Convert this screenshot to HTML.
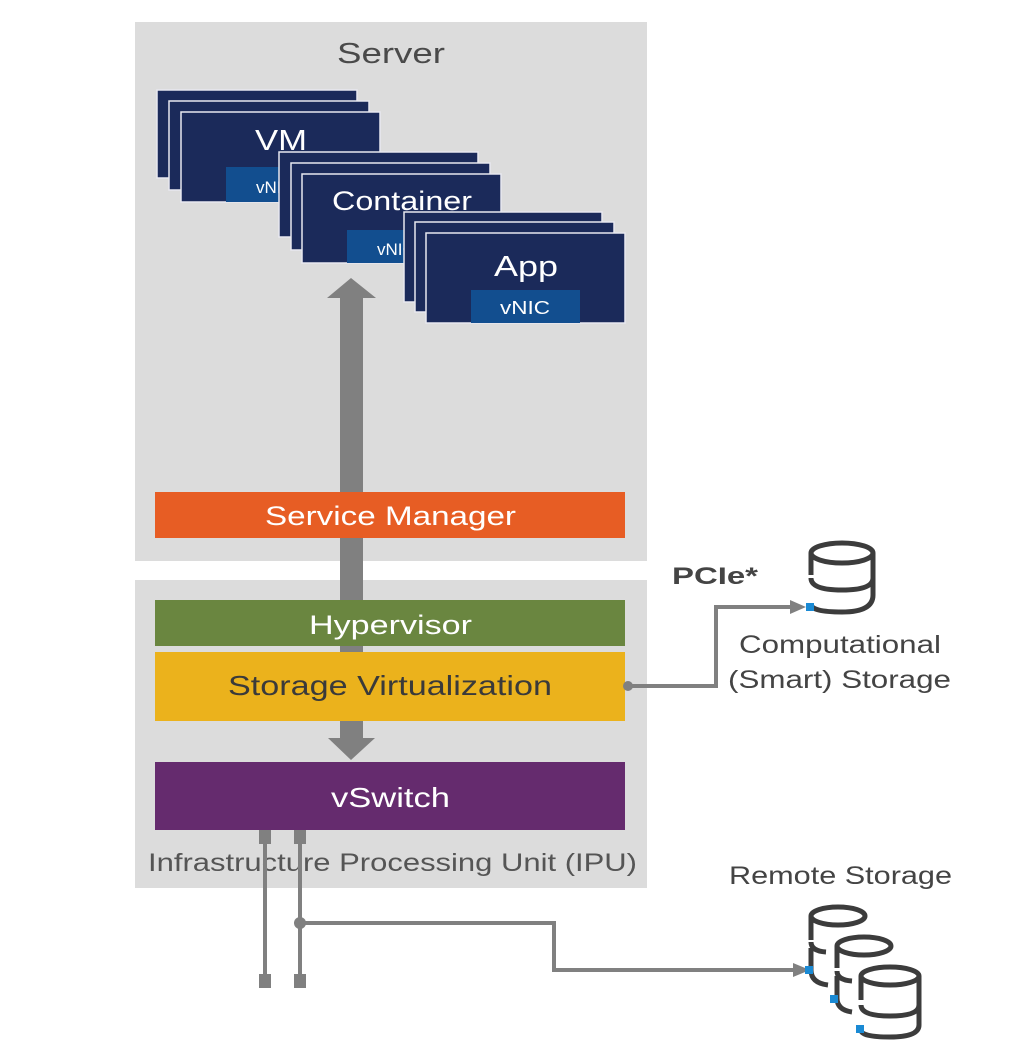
<!DOCTYPE html>
<html><head><meta charset="utf-8"><style>
html,body{margin:0;padding:0;background:#fff;}
svg{display:block;font-family:"Liberation Sans",sans-serif;}
</style></head><body>
<svg width="1016" height="1057" viewBox="0 0 1016 1057" xmlns="http://www.w3.org/2000/svg">
<rect x="0" y="0" width="1016" height="1057" fill="#fff"/>
<rect x="135" y="22" width="512" height="539" fill="#dcdcdc"/>
<rect x="135" y="580" width="512" height="308" fill="#dcdcdc"/>
<text x="337" y="63" font-size="29" fill="#4a4a4a" textLength="108" lengthAdjust="spacingAndGlyphs">Server</text>

<!-- arrow -->
<rect x="340" y="298" width="23" height="442" fill="#808080"/>
<polygon points="351,278 376,298 327,298" fill="#808080"/>
<polygon points="328,738 375,738 351,760" fill="#808080"/>

<!-- VM stack -->
<g stroke="#e8e8f0" stroke-width="1.5">
<rect x="157" y="90" width="200" height="88" fill="#1b2a5a"/>
<rect x="169" y="101" width="200" height="89" fill="#1b2a5a"/>
<rect x="181" y="112" width="199" height="90" fill="#1b2a5a"/>
</g>
<rect x="226" y="167" width="120" height="35" fill="#124e8f"/>
<text x="255" y="150" font-size="29" fill="#fff" textLength="52" lengthAdjust="spacingAndGlyphs">VM</text>
<text x="256" y="193" font-size="17" fill="#fff">vNIC</text>

<!-- Container stack -->
<g stroke="#e8e8f0" stroke-width="1.5">
<rect x="279" y="152" width="199" height="85" fill="#1b2a5a"/>
<rect x="291" y="163" width="199" height="87" fill="#1b2a5a"/>
<rect x="302" y="174" width="199" height="89" fill="#1b2a5a"/>
</g>
<rect x="347" y="230" width="120" height="33" fill="#124e8f"/>
<text x="332" y="210" font-size="27" fill="#fff" textLength="140" lengthAdjust="spacingAndGlyphs">Container</text>
<text x="377" y="255" font-size="17" fill="#fff">vNIC</text>

<!-- App stack -->
<g stroke="#e8e8f0" stroke-width="1.5">
<rect x="404" y="212" width="198" height="90" fill="#1b2a5a"/>
<rect x="415" y="222" width="199" height="90" fill="#1b2a5a"/>
<rect x="426" y="233" width="199" height="90" fill="#1b2a5a"/>
</g>
<rect x="471" y="290" width="109" height="33" fill="#124e8f"/>
<text x="494" y="276" font-size="29" fill="#fff" textLength="64" lengthAdjust="spacingAndGlyphs">App</text>
<text x="500" y="314" font-size="18" fill="#fff" textLength="50" lengthAdjust="spacingAndGlyphs">vNIC</text>

<!-- bars -->
<rect x="155" y="492" width="470" height="46" fill="#e75d24"/>
<text x="265" y="525" font-size="27" fill="#fff" textLength="251" lengthAdjust="spacingAndGlyphs">Service Manager</text>
<rect x="155" y="600" width="470" height="46" fill="#6a8640"/>
<text x="309" y="634" font-size="27" fill="#fff" textLength="163" lengthAdjust="spacingAndGlyphs">Hypervisor</text>
<rect x="340" y="646" width="23" height="6" fill="#808080"/>
<rect x="155" y="652" width="470" height="69" fill="#ebb21c"/>
<text x="228" y="695" font-size="28" fill="#3a3a3a" textLength="324" lengthAdjust="spacingAndGlyphs">Storage Virtualization</text>
<rect x="155" y="762" width="470" height="68" fill="#652b6e"/>
<text x="331" y="807" font-size="28" fill="#fff" textLength="119" lengthAdjust="spacingAndGlyphs">vSwitch</text>
<text x="148" y="871" font-size="25" fill="#555" textLength="489" lengthAdjust="spacingAndGlyphs">Infrastructure Processing Unit (IPU)</text>

<!-- PCIe connector -->
<g stroke="#808080" stroke-width="4" fill="none">
<polyline points="627,686 716,686 716,607 792,607"/>
</g>
<circle cx="628" cy="686" r="5" fill="#808080"/>
<polygon points="790,600 806,607 790,614" fill="#808080"/>
<text x="672" y="584" font-size="24" font-weight="bold" fill="#444" textLength="86" lengthAdjust="spacingAndGlyphs">PCIe*</text>
<g fill="none" stroke="#3c3c3c" stroke-width="5">
<ellipse cx="842" cy="553" rx="31" ry="10"/>
<path d="M811 553 V575 M873 553 V595 Q873 612 842 612 Q811 612 811 604"/>
<path d="M811 578 Q811 590 842 590 Q873 590 873 578"/>
</g>
<rect x="806" y="603" width="8" height="8" fill="#1a8ad4"/>
<text x="739" y="653" font-size="25" fill="#444" textLength="202" lengthAdjust="spacingAndGlyphs">Computational</text>
<text x="728" y="688" font-size="25" fill="#444" textLength="223" lengthAdjust="spacingAndGlyphs">(Smart) Storage</text>

<!-- bottom network lines -->
<g stroke="#808080" stroke-width="4" fill="none">
<line x1="265" y1="832" x2="265" y2="980"/>
<line x1="300" y1="832" x2="300" y2="980"/>
<polyline points="300,923 554,923 554,970 795,970"/>
</g>
<rect x="259" y="830" width="12" height="14" fill="#808080"/>
<rect x="294" y="830" width="12" height="14" fill="#808080"/>
<rect x="259" y="974" width="12" height="14" fill="#808080"/>
<rect x="294" y="974" width="12" height="14" fill="#808080"/>
<circle cx="300" cy="923" r="6" fill="#808080"/>
<polygon points="793,963 810,970 793,977" fill="#808080"/>

<text x="729" y="884" font-size="25" fill="#444" textLength="223" lengthAdjust="spacingAndGlyphs">Remote Storage</text>
<g fill="none" stroke="#3c3c3c" stroke-width="5">
<g>
<ellipse cx="838" cy="916" rx="27" ry="9"/>
<path d="M811 916 V940 M811 948 V970 Q811 983 828 985"/>
<path d="M811 942 Q811 951 826 952"/>
</g>
<g>
<ellipse cx="864" cy="946" rx="27" ry="9"/>
<path d="M837 946 V968 M837 976 V998 Q837 1010 852 1012"/>
<path d="M837 971 Q837 980 852 981"/>
</g>
<g>
<ellipse cx="890" cy="976" rx="29" ry="9"/>
<path d="M861 976 V1000 M919 976 V1025 Q919 1037 890 1037 Q861 1037 861 1030"/>
<path d="M861 1005 Q861 1016 890 1016 Q919 1016 919 1005"/>
</g>
</g>
<rect x="805" y="966" width="8" height="8" fill="#1a8ad4"/>
<rect x="830" y="995" width="8" height="8" fill="#1a8ad4"/>
<rect x="856" y="1025" width="8" height="8" fill="#1a8ad4"/>
</svg>
</body></html>
